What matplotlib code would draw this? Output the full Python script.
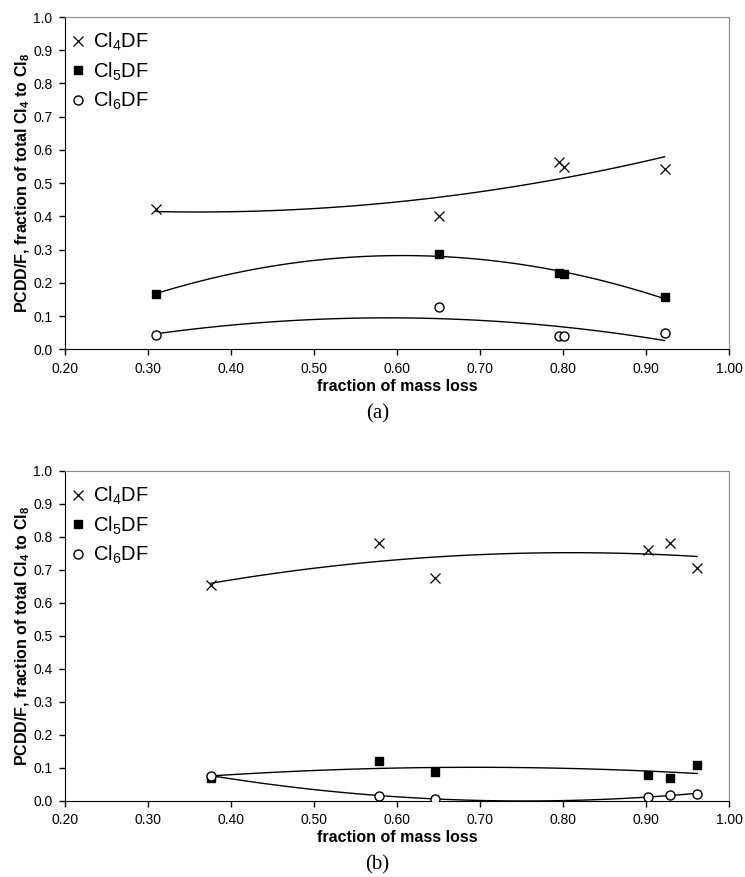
import numpy as np
import matplotlib
matplotlib.use("Agg")
from matplotlib import pyplot as plt

plt.rcParams['font.family'] = ['Liberation Sans', 'DejaVu Sans']
plt.rcParams['mathtext.fontset'] = 'custom'
plt.rcParams['mathtext.rm'] = 'Liberation Sans'
plt.rcParams['mathtext.bf'] = 'Liberation Sans:bold'

# panel (a)
A_X4 = [0.310, 0.650, 0.795, 0.801, 0.922]
A_CL4 = [0.422, 0.402, 0.565, 0.548, 0.543]
A_X5 = [0.310, 0.650, 0.795, 0.801, 0.922]
A_CL5 = [0.167, 0.287, 0.229, 0.228, 0.157]
A_X6 = [0.310, 0.650, 0.795, 0.801, 0.922]
A_CL6 = [0.042, 0.128, 0.040, 0.041, 0.050]

# panel (b)
B_X = [0.376, 0.578, 0.646, 0.902, 0.929, 0.961]
B_CL4 = [0.654, 0.781, 0.677, 0.761, 0.781, 0.705]
B_CL5 = [0.070, 0.121, 0.089, 0.078, 0.071, 0.108]
B_CL6 = [0.077, 0.015, 0.007, 0.012, 0.019, 0.021]

LABELS = ['Cl$_4$DF', 'Cl$_5$DF', 'Cl$_6$DF']
XTICKS = [0.2, 0.3, 0.4, 0.5, 0.6, 0.7, 0.8, 0.9, 1.0]
YTICKS = [0.0, 0.1, 0.2, 0.3, 0.4, 0.5, 0.6, 0.7, 0.8, 0.9, 1.0]

STYLES = [
    dict(marker='x', color='black', markersize=7, markeredgewidth=0.9, linestyle='none'),
    dict(marker='s', color='black', markersize=6, linestyle='none'),
    dict(marker='o', color='black', markerfacecolor='white', markersize=6.5,
         markeredgewidth=1, linestyle='none'),
]


def trend(ax, x, y):
    # excel style 2nd order polynomial trendline
    c = np.polyfit(x, y, 2)
    xs = np.linspace(min(x), max(x), 100)
    ax.plot(xs, np.polyval(c, xs), color='black', lw=1, zorder=1)


def panel(ax, series, tag):
    for (x, y), label, st in zip(series, LABELS, STYLES):
        trend(ax, x, y)
        ax.plot(x, y, label=label, zorder=3, **st)
    ax.set_xlim(0.2, 1.0)
    ax.set_ylim(0.0, 1.0)
    ax.set_xticks(XTICKS)
    ax.set_xticklabels(['%.2f' % t for t in XTICKS])
    ax.set_yticks(YTICKS)
    ax.set_yticklabels(['%.1f' % t for t in YTICKS])
    ax.tick_params(direction='out', length=4, width=1, labelsize=10, pad=5)
    for s in ['top', 'right']:
        ax.spines[s].set_color('#8c8c8c')
    for s in ['left', 'bottom']:
        ax.spines[s].set_color('black')
    ax.set_xlabel('fraction of mass loss', fontsize=11.5, fontweight='bold', labelpad=2)
    ax.set_ylabel(r'PCDD/F, fraction of total Cl$_\mathbf{4}$ to Cl$_\mathbf{8}$',
                  fontsize=11.5, fontweight='bold', labelpad=1)
    ax.legend(loc='upper left', frameon=False, fontsize=14.5, handletextpad=0.25,
              handlelength=1.0, labelspacing=0.35, borderaxespad=0.3,
              bbox_to_anchor=(-0.017, 1.0))
    ax.text(0.47, -0.195, tag, transform=ax.transAxes, ha='center', va='center',
            fontsize=15, family='Liberation Serif')


fig = plt.figure(figsize=(7.45, 8.77), dpi=100)
ax1 = fig.add_axes([0.0872, 0.6017, 0.8918, 0.3789])
ax2 = fig.add_axes([0.0872, 0.0867, 0.8918, 0.3763])

panel(ax1, [(A_X4, A_CL4), (A_X5, A_CL5), (A_X6, A_CL6)], '(a)')
panel(ax2, [(B_X, B_CL4), (B_X, B_CL5), (B_X, B_CL6)], '(b)')

fig.savefig('out.png', dpi=100)
